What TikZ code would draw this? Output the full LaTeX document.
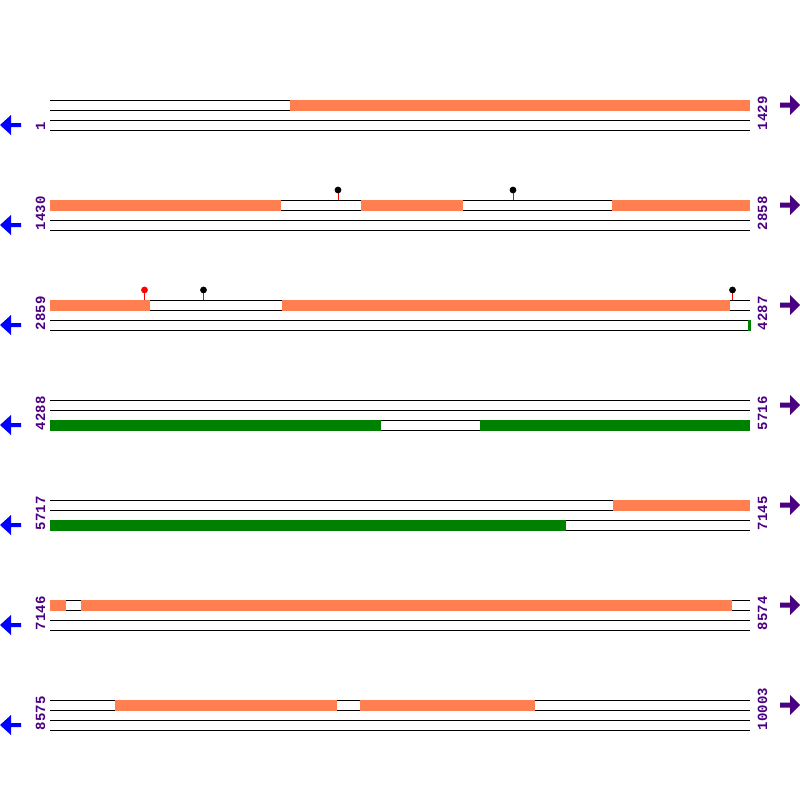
\documentclass[tikz,border=0pt]{standalone}
\usepackage{fontspec}
\setmonofont{Liberation Mono}
\definecolor{segorange}{RGB}{255,127,80}
\definecolor{seggreen}{RGB}{0,128,0}
\definecolor{lblpurple}{RGB}{75,0,130}
\definecolor{arrblue}{RGB}{0,0,255}
\tikzset{
  seqline/.style={draw=black,line width=1pt},
  orangeseg/.style={fill=segorange,draw=none},
  greenseg/.style={fill=seggreen,draw=none},
  leftarr/.style={fill=arrblue,draw=none},
  rightarr/.style={fill=lblpurple,draw=none},
  numlbl/.style={text=lblpurple,font=\ttfamily\bfseries\fontsize{14pt}{14pt}\selectfont,rotate=90,anchor=base west,inner sep=0pt,outer sep=0pt},
  lolstem/.style={draw=red,line width=1pt},
}
\newcommand{\seqrow}[1]{%
  \foreach \k in {0,10,20,30} {\draw[seqline] (50,#1+\k) -- (750,#1+\k);}
  \fill[leftarr] (0,#1+25) -- (11,#1+15) -- (11,#1+23) -- (21,#1+23) -- (21,#1+27) -- (11,#1+27) -- (11,#1+35) -- cycle;
  \fill[rightarr] (780,#1+2.5) -- (790,#1+2.5) -- (790,#1-5) -- (800,#1+5) -- (790,#1+15) -- (790,#1+7.5) -- (780,#1+7.5) -- cycle;
}
\newcommand{\oseg}[3]{\fill[orangeseg] (#2,#1-0.5) rectangle (#3,#1+10.5);}
\newcommand{\gseg}[3]{\fill[greenseg] (#2,#1+19.5) rectangle (#3,#1+30.5);}
\newcommand{\lolly}[3]{\draw[lolstem] (#2,#1) -- (#2,#1-10); \fill[#3] (#2,#1-10) circle (3.4);}
\begin{document}
\begin{tikzpicture}[x=1pt,y=-1pt]
\useasboundingbox (0,0) rectangle (800,800);
% row 1
\seqrow{100}
\oseg{100}{290}{750}
\node[numlbl] (l1) at (45,130) {1};
\node[numlbl] (r1) at (767,130) {1429};
% row 2
\seqrow{200}
\oseg{200}{50}{281}
\oseg{200}{361}{463}
\oseg{200}{612}{750}
\lolly{200}{338}{black}
\lolly{200}{513}{black}
\node[numlbl] (l2) at (45,230) {1430};
\node[numlbl] (r2) at (767,230) {2858};
% row 3
\seqrow{300}
\oseg{300}{50}{150}
\oseg{300}{282}{730}
\gseg{300}{747.5}{750.5}
\lolly{300}{144.5}{red}
\lolly{300}{203.5}{black}
\lolly{300}{732.5}{black}
\node[numlbl] (l3) at (45,330) {2859};
\node[numlbl] (r3) at (767,330) {4287};
% row 4
\seqrow{400}
\gseg{400}{50}{381}
\gseg{400}{480}{750}
\node[numlbl] (l4) at (45,430) {4288};
\node[numlbl] (r4) at (767,430) {5716};
% row 5
\seqrow{500}
\oseg{500}{613}{750}
\gseg{500}{50}{566}
\node[numlbl] (l5) at (45,530) {5717};
\node[numlbl] (r5) at (767,530) {7145};
% row 6
\seqrow{600}
\oseg{600}{50}{66}
\oseg{600}{81}{732}
\node[numlbl] (l6) at (45,630) {7146};
\node[numlbl] (r6) at (767,630) {8574};
% row 7
\seqrow{700}
\oseg{700}{115}{337}
\oseg{700}{360}{535}
\node[numlbl] (l7) at (45,730) {8575};
\node[numlbl] (r7) at (767,730) {10003};
\end{tikzpicture}
\end{document}
